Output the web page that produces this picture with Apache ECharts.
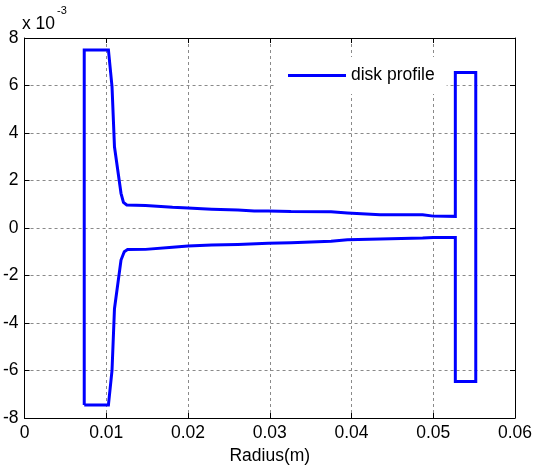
<!DOCTYPE html>
<html>
<head>
<meta charset="utf-8">
<script src="https://cdn.jsdelivr.net/npm/echarts@6/dist/echarts.min.js"></script>
<style>
html,body{margin:0;padding:0;background:#fff;}
#chart{width:539px;height:471px;}
</style>
</head>
<body>
<div id="chart"></div>
<script>
// Disk profile outline (radius in m, half-thickness in units of 1e-3 m)
const radius = [
  0.0073, 0.0073, 0.01026, 0.0107, 0.0110, 0.0118, 0.0121, 0.0125, 0.0148, 0.0181,
  0.0200, 0.0217, 0.0229, 0.0261, 0.0281, 0.0298, 0.0326, 0.0375, 0.0395, 0.0435,
  0.0487, 0.0500, 0.0527, 0.0527, 0.0552, 0.0552, 0.0527, 0.0527, 0.0500, 0.0487,
  0.0435, 0.0395, 0.0375, 0.0326, 0.0298, 0.0261, 0.0229, 0.0200, 0.0181, 0.0148,
  0.0126, 0.0122, 0.0118, 0.0110, 0.0107, 0.01026, 0.0073
];
const thickness = [
  -7.45, 7.5, 7.5, 5.95, 3.42, 1.46, 1.08, 0.97, 0.95, 0.87,
  0.84, 0.81, 0.79, 0.76, 0.72, 0.72, 0.69, 0.68, 0.63, 0.56,
  0.56, 0.50, 0.49, 6.55, 6.55, -6.46, -6.46, -0.40, -0.40, -0.42,
  -0.46, -0.49, -0.56, -0.62, -0.64, -0.69, -0.72, -0.76, -0.81, -0.90,
  -0.91, -1.0, -1.35, -3.4, -6.0, -7.45, -7.45
];
const xTicks = [0, 0.01, 0.02, 0.03, 0.04, 0.05, 0.06];
const yTicks = [-8, -6, -4, -2, 0, 2, 4, 6, 8];
const seriesName = 'disk profile';
const xAxisTitle = 'Radius(m)';
const yScaleText = 'x 10';
const yScaleExp = '-3';

const FONT = 'Liberation Sans, Arial, sans-serif';
const FS = 17.5;
const chart = echarts.init(document.getElementById('chart'), null, {renderer: 'canvas'});
const data = radius.map((r, i) => [r, thickness[i]]);

const gridLine = {show: true, lineStyle: {color: '#8a8a8a', type: [3, 3], width: 1}};
const tickIn = {show: true, inside: true, length: 5, lineStyle: {color: '#000', width: 1}};
const axisLn = {show: true, onZero: false, lineStyle: {color: '#000', width: 1}};

chart.setOption({
  animation: false,
  backgroundColor: '#fff',
  grid: {left: 21.5, right: 24, top: 38, bottom: 53, containLabel: false},
  legend: {
    data: [{name: seriesName, icon: 'rect'}],
    left: 275, top: 57,
    padding: [9, 12, 9, 13],
    backgroundColor: '#fff',
    itemWidth: 58, itemHeight: 3,
    itemGap: 5,
    textStyle: {fontFamily: FONT, fontSize: FS, color: '#000', lineHeight: 19}
  },
  xAxis: [{
    type: 'value', min: xTicks[0], max: xTicks[xTicks.length - 1], interval: 0.01,
    position: 'bottom',
    axisLine: axisLn, axisTick: tickIn, splitLine: gridLine,
    axisLabel: {
      fontFamily: FONT, fontSize: FS, color: '#000', margin: 6,
      formatter: v => (Math.round(v * 100) / 100).toString()
    },
    name: xAxisTitle, nameLocation: 'middle', nameGap: 25,
    nameTextStyle: {fontFamily: FONT, fontSize: FS, color: '#000'}
  }, {
    type: 'value', min: xTicks[0], max: xTicks[xTicks.length - 1], interval: 0.01,
    position: 'top',
    axisLine: axisLn, axisTick: tickIn, splitLine: {show: false},
    axisLabel: {show: false}
  }],
  yAxis: [{
    type: 'value', min: yTicks[0], max: yTicks[yTicks.length - 1], interval: 2,
    position: 'left',
    axisLine: axisLn, axisTick: tickIn, splitLine: gridLine,
    axisLabel: {fontFamily: FONT, fontSize: FS, color: '#000', margin: 6}
  }, {
    type: 'value', min: yTicks[0], max: yTicks[yTicks.length - 1], interval: 2,
    position: 'right',
    axisLine: axisLn, axisTick: tickIn, splitLine: {show: false},
    axisLabel: {show: false}
  }],
  graphic: [
    {type: 'text', left: 22, top: 15, style: {text: yScaleText, fontFamily: FONT, fontSize: FS, fill: '#000'}},
    {type: 'text', left: 57, top: 5, style: {text: yScaleExp, fontFamily: FONT, fontSize: 11, fill: '#000'}}
  ],
  series: [{
    name: seriesName,
    type: 'line',
    xAxisIndex: 0, yAxisIndex: 0,
    data: data,
    symbol: 'none',
    showSymbol: false,
    lineStyle: {color: '#0000ff', width: 3, join: 'miter'},
    itemStyle: {color: '#0000ff'},
    z: 3
  }]
});
</script>
</body>
</html>
